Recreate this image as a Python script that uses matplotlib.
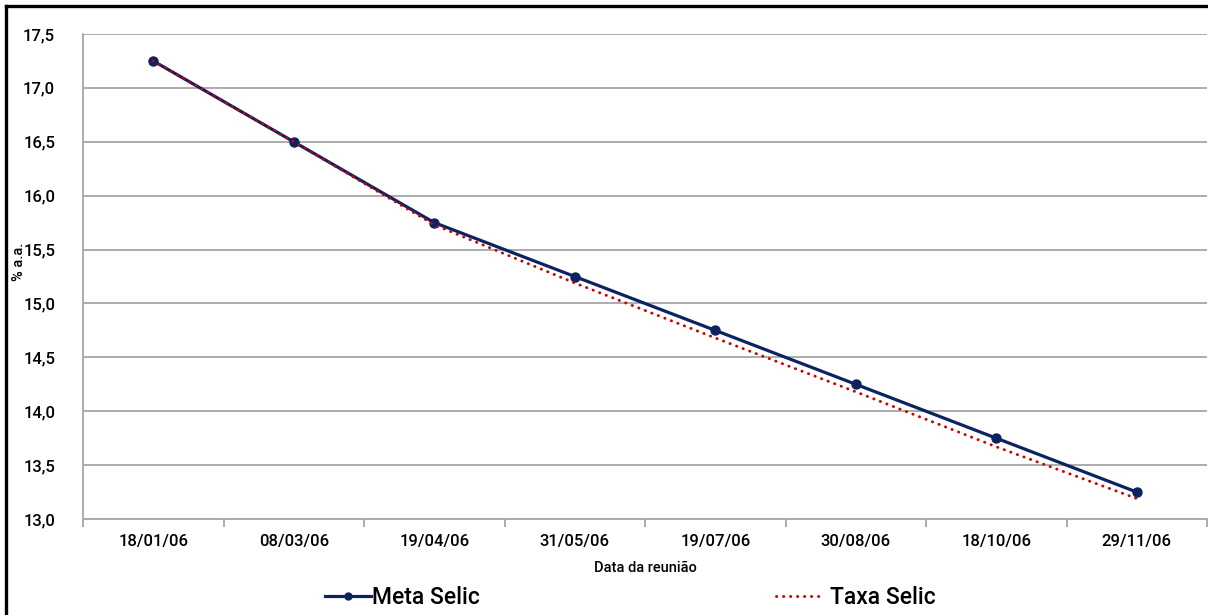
import matplotlib
matplotlib.use("Agg")
import matplotlib.pyplot as plt
from matplotlib.lines import Line2D
from matplotlib.ticker import FixedLocator, FuncFormatter

plt.rcParams["font.family"] = ["Roboto", "DejaVu Sans"]
plt.rcParams["font.weight"] = "medium"

# Copom meetings in 2006
datas = ["18/01/06", "08/03/06", "19/04/06", "31/05/06",
         "19/07/06", "30/08/06", "18/10/06", "29/11/06"]
meta_selic = [17.25, 16.50, 15.75, 15.25, 14.75, 14.25, 13.75, 13.25]
taxa_selic = [17.25, 16.50, 15.73, 15.19, 14.68, 14.18, 13.67, 13.19]

W, H = 1208, 615
fig = plt.figure(figsize=(W / 100, H / 100), dpi=100)
ax = fig.add_axes([83 / W, 1 - 519 / H, (1207 - 83) / W, (519 - 34) / H])

x = [i + 0.5 for i in range(len(datas))]

navy = "#0b2461"
red = "#cc0000"
grid = "#a6a6a6"
dotted = (0, (0.1, 2.3))

ax.plot(x, meta_selic, color=navy, lw=2.3, marker="o", ms=6.5,
        solid_capstyle="round", zorder=3)
ax.plot(x, taxa_selic, color=red, lw=2.1, linestyle=dotted,
        dash_capstyle="round", zorder=4)

ax.set_xlim(0, len(datas))
ax.set_ylim(13.0, 17.5)
ax.set_yticks([13.0 + 0.5 * i for i in range(10)])
ax.yaxis.set_major_formatter(FuncFormatter(lambda v, p: f"{v:.1f}".replace(".", ",")))
ax.yaxis.grid(True, color=grid, lw=1.3)
ax.set_axisbelow(True)

ax.xaxis.set_major_locator(FixedLocator(list(range(len(datas) + 1))))
ax.xaxis.set_minor_locator(FixedLocator(x))
ax.set_xticklabels([], minor=False)
ax.set_xticklabels(datas, minor=True)
ax.tick_params(axis="x", which="major", length=6, color=grid, width=1.3)
ax.tick_params(axis="x", which="minor", length=0, pad=11, labelsize=12)
ax.tick_params(axis="y", length=0, pad=20, labelsize=12)

for s in ["top", "right"]:
    ax.spines[s].set_visible(False)
for s in ["left", "bottom"]:
    ax.spines[s].set_color(grid)
    ax.spines[s].set_linewidth(1.3)

fig.text(645 / W, 1 - 568 / H, "Data da reunião", ha="center", va="center", fontsize=10.5)
fig.text(19 / W, 1 - 262 / H, "% a.a.", ha="center", va="center", rotation=90, fontsize=10.5)

# figure frame (top and left edges)
fig.add_artist(Line2D([6 / W, 6 / W], [0, 1 - 6 / H], transform=fig.transFigure,
                      color="black", lw=2.4))
fig.add_artist(Line2D([6 / W, 1], [1 - 6 / H, 1 - 6 / H], transform=fig.transFigure,
                      color="black", lw=2.4))

h1 = Line2D([], [], color=navy, lw=2.3, marker="o", ms=5)
h2 = Line2D([], [], color=red, lw=2.1, linestyle=dotted, dash_capstyle="round")
leg1 = fig.legend([h1], ["Meta Selic"], loc="center left",
                  bbox_to_anchor=(316 / W, 1 - 598 / H), frameon=False,
                  fontsize=16.5, handlelength=2.0, handletextpad=0.05, borderaxespad=0)
leg2 = fig.legend([h2], ["Taxa Selic"], loc="center left",
                  bbox_to_anchor=(767 / W, 1 - 598 / H), frameon=False,
                  fontsize=16.5, handlelength=2.0, handletextpad=0.35, borderaxespad=0)

fig.savefig("out.png", dpi=100)
